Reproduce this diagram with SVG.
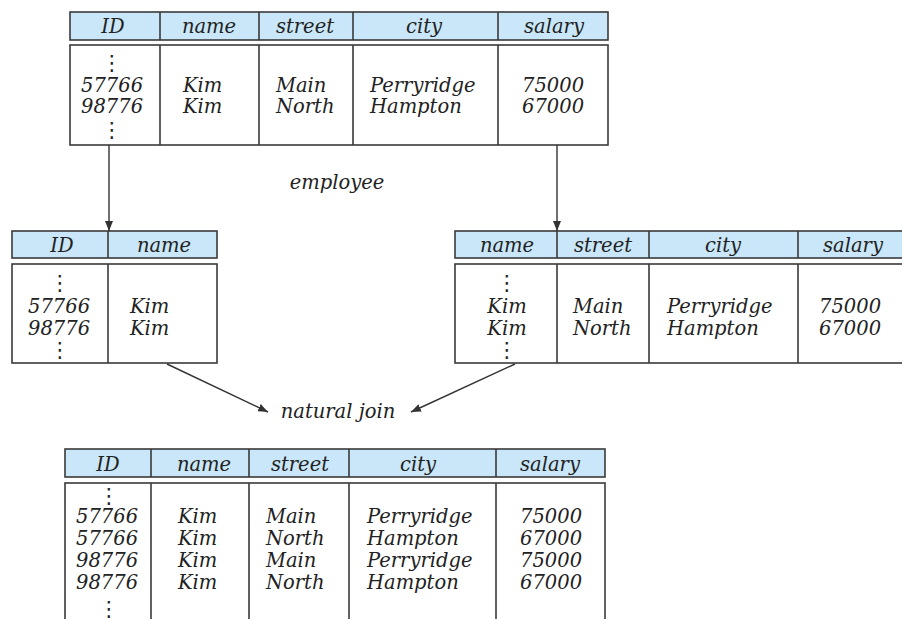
<svg xmlns="http://www.w3.org/2000/svg" width="902" height="619" viewBox="0 0 902 619">
<style>
.hd{fill:#c9e7f8;stroke:#3a3a3a;stroke-width:1.6}
.bd{fill:#ffffff;stroke:#3a3a3a;stroke-width:1.6}
.ln{stroke:#3a3a3a;stroke-width:1.6;fill:none}
text{font-family:"DejaVu Serif","Liberation Serif",serif;font-style:italic;font-size:19.5px;fill:#222222}
.h{text-anchor:middle}
.m{text-anchor:middle}
.dots{font-family:"DejaVu Sans",sans-serif;font-style:normal;font-size:21px;text-anchor:middle}
.conn{stroke:#333;stroke-width:1.4;fill:none;marker-end:url(#ah)}
</style>
<defs>
<marker id="ah" viewBox="0 0 10 8" refX="10" refY="4" markerWidth="10" markerHeight="8" markerUnits="userSpaceOnUse" orient="auto">
<path d="M0,0 L10,4 L0,8 Z" fill="#333"/>
</marker>
</defs>
<rect width="902" height="619" fill="#ffffff"/>

<g id="employee">
<rect class="hd" x="70" y="12" width="538" height="28"/>
<path class="ln" d="M160,12V40M259,12V40M353,12V40M498,12V40"/>
<rect class="bd" x="70" y="45" width="538" height="100"/>
<path class="ln" d="M160,45V145M259,45V145M353,45V145M498,45V145"/>
<text class="h" x="113" y="33">ID</text>
<text class="h" x="209" y="33">name</text>
<text class="h" x="305" y="33">street</text>
<text class="h" x="424" y="33">city</text>
<text class="h" x="554" y="33">salary</text>
<text class="dots" x="112" y="70">⋮</text>
<text x="81" y="92">57766</text>
<text x="81" y="113">98776</text>
<text class="dots" x="112" y="137">⋮</text>
<text x="183" y="92">Kim</text>
<text x="183" y="113">Kim</text>
<text x="276" y="92">Main</text>
<text x="276" y="113">North</text>
<text x="370" y="92">Perryridge</text>
<text x="370" y="113">Hampton</text>
<text x="522" y="92">75000</text>
<text x="522" y="113">67000</text>
<text class="m" x="337" y="189">employee</text>
</g>

<g id="projection-id-name">
<rect class="hd" x="12" y="231" width="205" height="27"/>
<path class="ln" d="M108,231V258"/>
<rect class="bd" x="12" y="264" width="205" height="99"/>
<path class="ln" d="M108,264V363"/>
<text class="h" x="62" y="252">ID</text>
<text class="h" x="164" y="252">name</text>
<text class="dots" x="60" y="290">⋮</text>
<text x="28" y="313">57766</text>
<text x="28" y="335">98776</text>
<text class="dots" x="60" y="357">⋮</text>
<text x="130" y="313">Kim</text>
<text x="130" y="335">Kim</text>
</g>

<g id="projection-name-street-city-salary">
<rect class="hd" x="455" y="231" width="450" height="27"/>
<path class="ln" d="M557,231V258M649,231V258M798,231V258"/>
<rect class="bd" x="455" y="264" width="450" height="99"/>
<path class="ln" d="M557,264V363M649,264V363M798,264V363"/>
<text class="h" x="507" y="252">name</text>
<text class="h" x="603" y="252">street</text>
<text class="h" x="723" y="252">city</text>
<text class="h" x="853" y="252">salary</text>
<text class="dots" x="507" y="290">⋮</text>
<text class="m" x="507" y="313">Kim</text>
<text class="m" x="507" y="335">Kim</text>
<text class="dots" x="507" y="357">⋮</text>
<text x="573" y="313">Main</text>
<text x="573" y="335">North</text>
<text x="667" y="313">Perryridge</text>
<text x="667" y="335">Hampton</text>
<text x="819" y="313">75000</text>
<text x="819" y="335">67000</text>
</g>

<g id="natural-join-label">
<text class="m" x="338" y="418">natural join</text>
</g>

<g id="result">
<rect class="hd" x="65" y="449" width="540" height="28"/>
<path class="ln" d="M151,449V477M249,449V477M349,449V477M496,449V477"/>
<rect class="bd" x="65" y="483" width="540" height="150"/>
<path class="ln" d="M151,483V633M249,483V633M349,483V633M496,483V633"/>
<text class="h" x="108" y="471">ID</text>
<text class="h" x="204" y="471">name</text>
<text class="h" x="300" y="471">street</text>
<text class="h" x="418" y="471">city</text>
<text class="h" x="550" y="471">salary</text>
<text class="dots" x="109" y="503">⋮</text>
<text x="76" y="523">57766</text>
<text x="76" y="545">57766</text>
<text x="76" y="567">98776</text>
<text x="76" y="589">98776</text>
<text class="dots" x="109" y="616">⋮</text>
<text x="178" y="523">Kim</text>
<text x="178" y="545">Kim</text>
<text x="178" y="567">Kim</text>
<text x="178" y="589">Kim</text>
<text x="266" y="523">Main</text>
<text x="266" y="545">North</text>
<text x="266" y="567">Main</text>
<text x="266" y="589">North</text>
<text x="367" y="523">Perryridge</text>
<text x="367" y="545">Hampton</text>
<text x="367" y="567">Perryridge</text>
<text x="367" y="589">Hampton</text>
<text x="520" y="523">75000</text>
<text x="520" y="545">67000</text>
<text x="520" y="567">75000</text>
<text x="520" y="589">67000</text>
</g>

<g id="connectors">
<path class="conn" d="M109,145V231"/>
<path class="conn" d="M557,145V231"/>
<path class="conn" d="M167,364L268,412"/>
<path class="conn" d="M515,364L411,412"/>
</g>
</svg>
